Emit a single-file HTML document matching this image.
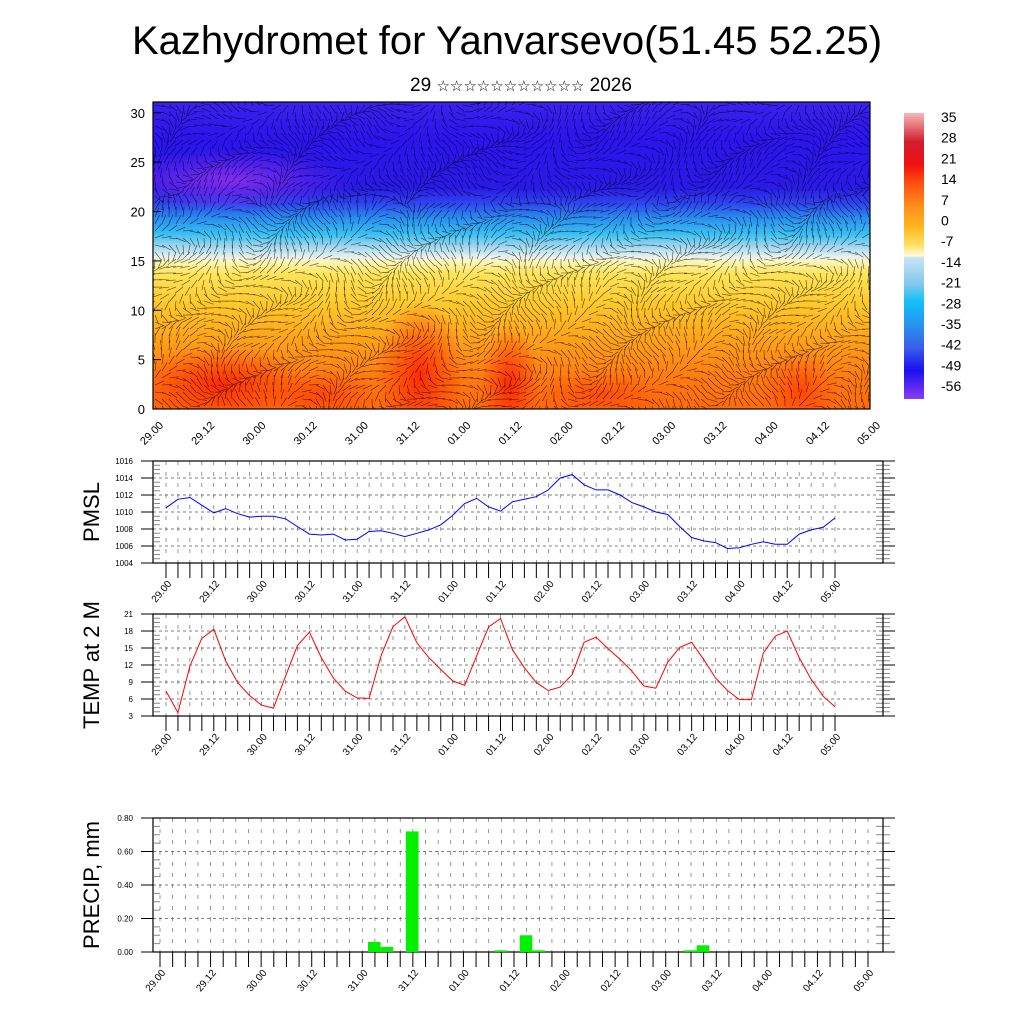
<!DOCTYPE html>
<html><head><meta charset="utf-8"><style>
html,body{margin:0;padding:0;background:#fff;width:1024px;height:1024px;overflow:hidden}
svg{display:block;font-family:"Liberation Sans","DejaVu Sans",sans-serif}
</style></head><body>
<svg id="root" width="1024" height="1024" viewBox="0 0 1024 1024">
<defs>
<linearGradient id="vgrad" x1="0" y1="0" x2="0" y2="1">
<stop offset="0" stop-color="#3a22ee"/>
<stop offset="0.12" stop-color="#2b14ef"/>
<stop offset="0.28" stop-color="#2a1ae8"/>
<stop offset="0.33" stop-color="#2f44ee"/>
<stop offset="0.38" stop-color="#2a8ff0"/>
<stop offset="0.43" stop-color="#38c0f2"/>
<stop offset="0.47" stop-color="#9fd6ee"/>
<stop offset="0.505" stop-color="#e8f2ee"/>
<stop offset="0.52" stop-color="#fff6b8"/>
<stop offset="0.56" stop-color="#ffe45a"/>
<stop offset="0.66" stop-color="#ffc82a"/>
<stop offset="0.78" stop-color="#ffa018"/>
<stop offset="0.9" stop-color="#ff7a10"/>
<stop offset="1" stop-color="#ff6a0c"/>
</linearGradient>
<radialGradient id="redblob"><stop offset="0" stop-color="#ff2000" stop-opacity="0.9"/><stop offset="1" stop-color="#ff3000" stop-opacity="0"/></radialGradient>
<radialGradient id="purpblob"><stop offset="0" stop-color="#8a2ef0" stop-opacity="0.95"/><stop offset="1" stop-color="#7a2af0" stop-opacity="0"/></radialGradient>
<linearGradient id="cbar" x1="0" y1="0" x2="0" y2="1">
<stop offset="0" stop-color="#f6b8b8"/>
<stop offset="0.1" stop-color="#d02030"/>
<stop offset="0.18" stop-color="#f01010"/>
<stop offset="0.24" stop-color="#ff4a10"/>
<stop offset="0.32" stop-color="#ff8a18"/>
<stop offset="0.4" stop-color="#ffb820"/>
<stop offset="0.46" stop-color="#ffe060"/>
<stop offset="0.5" stop-color="#fffbe0"/>
<stop offset="0.505" stop-color="#c8e4f4"/>
<stop offset="0.6" stop-color="#80c8ec"/>
<stop offset="0.66" stop-color="#10c0f8"/>
<stop offset="0.75" stop-color="#2a8ef0"/>
<stop offset="0.82" stop-color="#3a5ee8"/>
<stop offset="0.9" stop-color="#1a10f0"/>
<stop offset="1" stop-color="#8a3cf0"/>
</linearGradient>
<clipPath id="topclip"><rect x="153" y="102" width="717" height="307"/></clipPath>
</defs>
<text x="507" y="54" font-size="40" text-anchor="middle">Kazhydromet for Yanvarsevo(51.45 52.25)</text>
<text x="521" y="91" font-size="19" text-anchor="middle">29 <tspan font-size="15">☆☆☆☆☆☆☆☆☆☆☆</tspan> 2026</text>
<g id="top"></g>
<g id="pmsl"></g>
<g id="temp"></g>
<g id="precip"></g>
</svg>
<script>
const xLabels = ["29.00","29.12","30.00","30.12","31.00","31.12","01.00","01.12","02.00","02.12","03.00","03.12","04.00","04.12","05.00"];
const pmslValues = [1010.5,1011.5,1011.7,1010.8,1009.9,1010.4,1009.8,1009.4,1009.5,1009.5,1009.2,1008.3,1007.4,1007.3,1007.4,1006.7,1006.8,1007.7,1007.8,1007.5,1007.1,1007.5,1007.9,1008.5,1009.6,1011.0,1011.6,1010.6,1010.1,1011.2,1011.5,1011.8,1012.6,1014.0,1014.4,1013.2,1012.6,1012.6,1012.0,1011.1,1010.6,1010.0,1009.7,1008.3,1007.0,1006.6,1006.4,1005.7,1005.8,1006.2,1006.5,1006.2,1006.2,1007.4,1007.9,1008.2,1009.3];
const tempValues = [7.4,3.6,11.8,16.7,18.3,12.7,8.9,6.6,4.9,4.4,10.0,15.4,17.8,13.3,9.7,7.4,6.2,6.1,13.6,18.8,20.5,15.9,13.3,11.2,9.2,8.4,13.6,18.7,20.2,14.7,11.5,8.9,7.5,8.1,10.3,16.0,16.9,14.9,13.0,10.9,8.3,7.9,12.5,15.1,16.0,13.0,9.7,7.5,5.9,5.9,14.1,17.1,18.0,13.3,9.5,6.5,4.6];
const precipIndex = [17,18,20,27,29,30,42,43];
const precipValues = [0.06,0.03,0.72,0.01,0.10,0.01,0.01,0.04];
const pmslTicks = ["1004","1006","1008","1010","1012","1014","1016"];
const tempTicks = ["3","6","9","12","15","18","21"];
const precipTicks = ["0.00","0.20","0.40","0.60","0.80"];
const topTicks = ["0","5","10","15","20","25","30"];
const cbarLabels = ["35","28","21","14","7","0","-7","-14","-21","-28","-35","-42","-49","-56"];

const NS="http://www.w3.org/2000/svg";
function mk(parent,tag,attrs,text){const e=document.createElementNS(NS,tag);for(const k in attrs)e.setAttribute(k,attrs[k]);if(text!==undefined)e.textContent=text;parent.appendChild(e);return e;}

(function(){
const g=document.getElementById('top');
const L=153,R=870,T=102,B=409;
const c=mk(g,'g',{'clip-path':'url(#topclip)'});
mk(c,'rect',{x:L,y:T,width:R-L,height:B-T,fill:'url(#vgrad)'});
mk(c,'ellipse',{cx:230,cy:180,rx:120,ry:30,fill:'url(#purpblob)'});
mk(c,'ellipse',{cx:220,cy:385,rx:90,ry:40,fill:'url(#redblob)'});
mk(c,'ellipse',{cx:420,cy:375,rx:45,ry:75,fill:'url(#redblob)'});
mk(c,'ellipse',{cx:510,cy:385,rx:30,ry:60,fill:'url(#redblob)'});
mk(c,'ellipse',{cx:320,cy:395,rx:60,ry:25,fill:'url(#redblob)','opacity':0.6});
mk(c,'ellipse',{cx:600,cy:395,rx:70,ry:25,fill:'url(#redblob)','opacity':0.5});
mk(c,'ellipse',{cx:800,cy:390,rx:40,ry:40,fill:'url(#redblob)','opacity':0.6});
let d='';
for(let yy=T+3;yy<B;yy+=7){
 for(let xx=L+2;xx<R;xx+=7){
  const a=Math.sin(xx*0.037+yy*0.051)*1.6+Math.cos(xx*0.011-yy*0.029)*1.2+(yy<200?1.5:0.4);
  const len=10;
  const x2=xx+Math.cos(a)*len, y2=yy+Math.sin(a)*len;
  d+=`M${xx.toFixed(1)} ${yy.toFixed(1)}L${x2.toFixed(1)} ${y2.toFixed(1)}`;
 }
}
mk(c,'path',{d:d,stroke:'#000',fill:'none','stroke-width':0.6,'stroke-opacity':0.7});
mk(g,'rect',{x:L,y:T,width:R-L,height:B-T,fill:'none',stroke:'#000','stroke-width':1.2});
const ys=v=>B-v*(B-T)/31.1;
topTicks.forEach(t=>{const y=ys(+t);
 const tk=mk(g,'line',{x1:L,x2:L+8,y1:y,y2:y,stroke:'#000'});
 
 const lb=mk(g,'text',{x:L-8,y:y+5,'font-size':13,'text-anchor':'end'},t);
 });
const step=(R-L)/(xLabels.length-1);
xLabels.forEach((t,i)=>{const x=L+i*step;
 const lb=mk(g,'text',{x:0,y:0,'font-size':11,'text-anchor':'end',transform:`translate(${x+11},${B+17}) rotate(-45)`},t);
 });
const cb=mk(document.getElementById('root'),'g',{});

mk(cb,'rect',{x:904,y:113,width:20,height:286,fill:'url(#cbar)'});
cbarLabels.forEach((t,i)=>{const lb=mk(cb,'text',{x:941,y:122+i*20.7,'font-size':14},t);
 });
})();

function panel(id,T,B,x0,x1,ymin,ymax,ticks,title,titleY){
 const g=document.getElementById(id);
 const L=153,R=883;
 const n=56;
 const xs=i=>x0+i*(x1-x0)/n;
 const ys=v=>B-(v-ymin)*(B-T)/(ymax-ymin);
 for(let i=0;i<=n;i++){const x=xs(i); if(x<=L||x>=R)continue;
  mk(g,'line',{x1:x,x2:x,y1:T,y2:B,stroke:'#555','stroke-width':0.6,'stroke-dasharray':'4 7'});}
 ticks.forEach((t,k)=>{const y=ys(+t);
  if(k>0&&k<ticks.length-1) mk(g,'line',{x1:L,x2:R,y1:y,y2:y,stroke:'#555','stroke-width':0.7,'stroke-dasharray':'3 3'});
  const tk=mk(g,'line',{x1:L,x2:L-12,y1:y,y2:y,stroke:'#000'});
  
  mk(g,'line',{x1:R,x2:R+12,y1:y,y2:y,stroke:'#000'});
  const lb=mk(g,'text',{x:L-20,y:y+3,'font-size':8,'text-anchor':'end'},t);
  
  if(k<ticks.length-1){for(let m=1;m<4;m++){const ym=y-(m*(ys(+ticks[k+1])-y)/-4);
   mk(g,'line',{x1:L+1,x2:L+7,y1:ym,y2:ym,stroke:'#888'});mk(g,'line',{x1:R-7,x2:R+7,y1:ym,y2:ym,stroke:'#888'});}}
 });
 mk(g,'rect',{x:L,y:T,width:R-L,height:B-T,fill:'none',stroke:'#000','stroke-width':1.2});
 for(let i=0;i<=n;i++){const x=xs(i);
  mk(g,'line',{x1:x,x2:x,y1:B,y2:B+15,stroke:'#000','stroke-width':1});}
 xLabels.forEach((t,k)=>{const x=xs(k*4);
  const lb=mk(g,'text',{x:0,y:0,'font-size':10,'text-anchor':'end',transform:`translate(${x+6},${B+21}) rotate(-50)`},t);
  });
 const tt=mk(g,'text',{x:0,y:0,'font-size':22,'text-anchor':'middle',transform:`translate(99,${titleY}) rotate(-90)`},title);
 
 return {g,xs,ys};
}
(function(){
 const p=panel('pmsl',461,563,166,835,1004,1016,pmslTicks,'PMSL',512);
 const pts=pmslValues.map((v,i)=>p.xs(i).toFixed(1)+','+p.ys(v).toFixed(1)).join(' ');
 const l=mk(p.g,'polyline',{points:pts,fill:'none',stroke:'#0000ff','stroke-width':1});
 
})();
(function(){
 const p=panel('temp',614,716,166,835,3,21,tempTicks,'TEMP at 2 M',665);
 const pts=tempValues.map((v,i)=>p.xs(i).toFixed(1)+','+p.ys(v).toFixed(1)).join(' ');
 const l=mk(p.g,'polyline',{points:pts,fill:'none',stroke:'#ff0000','stroke-width':1});
 
})();
(function(){
 const p=panel('precip',818,952,160,868,0,0.8,precipTicks,'PRECIP, mm',885);
 const w=(868-160)/56;
 precipValues.forEach((v,k)=>{const i=precipIndex[k];
  const x=p.xs(i)-0.55*w;
  const r=mk(p.g,'rect',{x:x,y:p.ys(v),width:w,height:p.ys(0)-p.ys(v),fill:'#00f000'});
  });
})();
</script>
</body></html>
